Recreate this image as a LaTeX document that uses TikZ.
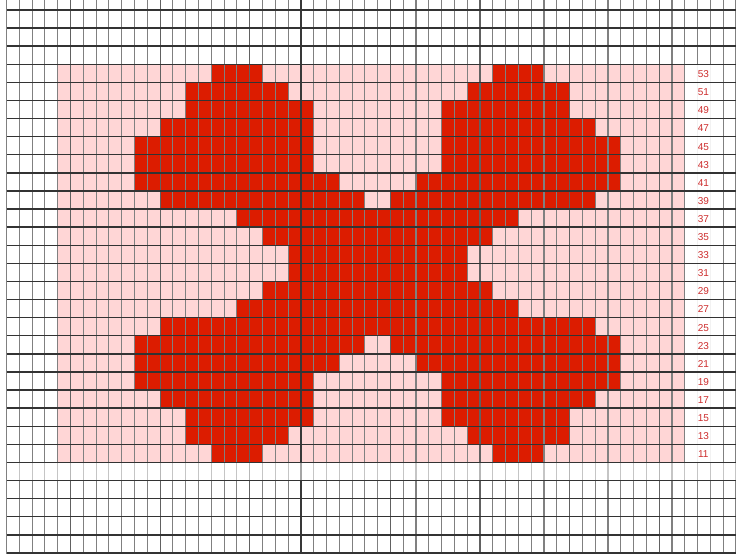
\documentclass[tikz,border=0pt]{standalone}
\usepackage{fontspec}
\setsansfont{Liberation Sans}
\usepackage{xcolor}
\definecolor{chartpink}{RGB}{255,214,214}
\definecolor{chartred}{RGB}{220,28,0}
\definecolor{labelred}{RGB}{205,45,45}

\begin{document}
\begin{tikzpicture}[x=6.4pt,y=-9.05pt,
    vline/.style={black!50,line width=0.55pt},
    vdark/.style={black!62,line width=0.55pt},
    hline/.style={black!80,line width=0.72pt},
    lbl/.style={font=\sffamily\fontsize{5}{6}\selectfont,text=labelred,inner sep=0pt}]
  \useasboundingbox[fill=white] (-0.508,-0.552) rectangle (57.0,30.055);
  % background of the chart
  \fill[chartpink] (4,3) rectangle (53,25);
  % the X motif, row / first line / last line
  \foreach \r/\a/\b in {3/16/20, 3/38/42, 4/14/22, 4/36/44, 5/14/24, 5/34/44,
      6/12/24, 6/34/46, 7/10/24, 7/34/48, 8/10/24, 8/34/48, 9/10/26, 9/32/48,
      10/12/28, 10/30/46, 11/18/40, 12/20/38, 13/22/36, 14/22/36, 15/20/38,
      16/18/40, 17/12/46, 18/10/28, 18/30/48, 19/10/26, 19/32/48, 20/10/24,
      20/34/48, 21/12/24, 21/34/46, 22/14/24, 22/34/44, 23/14/22, 23/36/44,
      24/16/20, 24/38/42}
    \fill[chartred] (\a,\r) rectangle (\b,\r+1);
  % grid
  \foreach \c in {0,...,57}
    \draw[vline] (\c,-0.6) -- (\c,30.1);
  \foreach \c in {5,12,19,30,37,44,51}
    \draw[vdark] (\c,-0.6) -- (\c,30.1);
  \draw[black!78,line width=0.75pt] (23,-0.6) -- (23,30.1);
  \fill[white,opacity=0.9] (53,3) rectangle (56,25);
  \fill[white,opacity=0.55] (0,25) rectangle (57.1,26);
  \foreach \r in {0,...,30}
    \draw[hline] (0,\r) -- (57.1,\r);
  % row numbers
  \foreach \r in {3,...,24} {
    \pgfmathtruncatemacro\n{59-2*\r}
    \node[lbl] (row\n) at (54.45,\r+0.55) {\n};
  }
\end{tikzpicture}
\end{document}
